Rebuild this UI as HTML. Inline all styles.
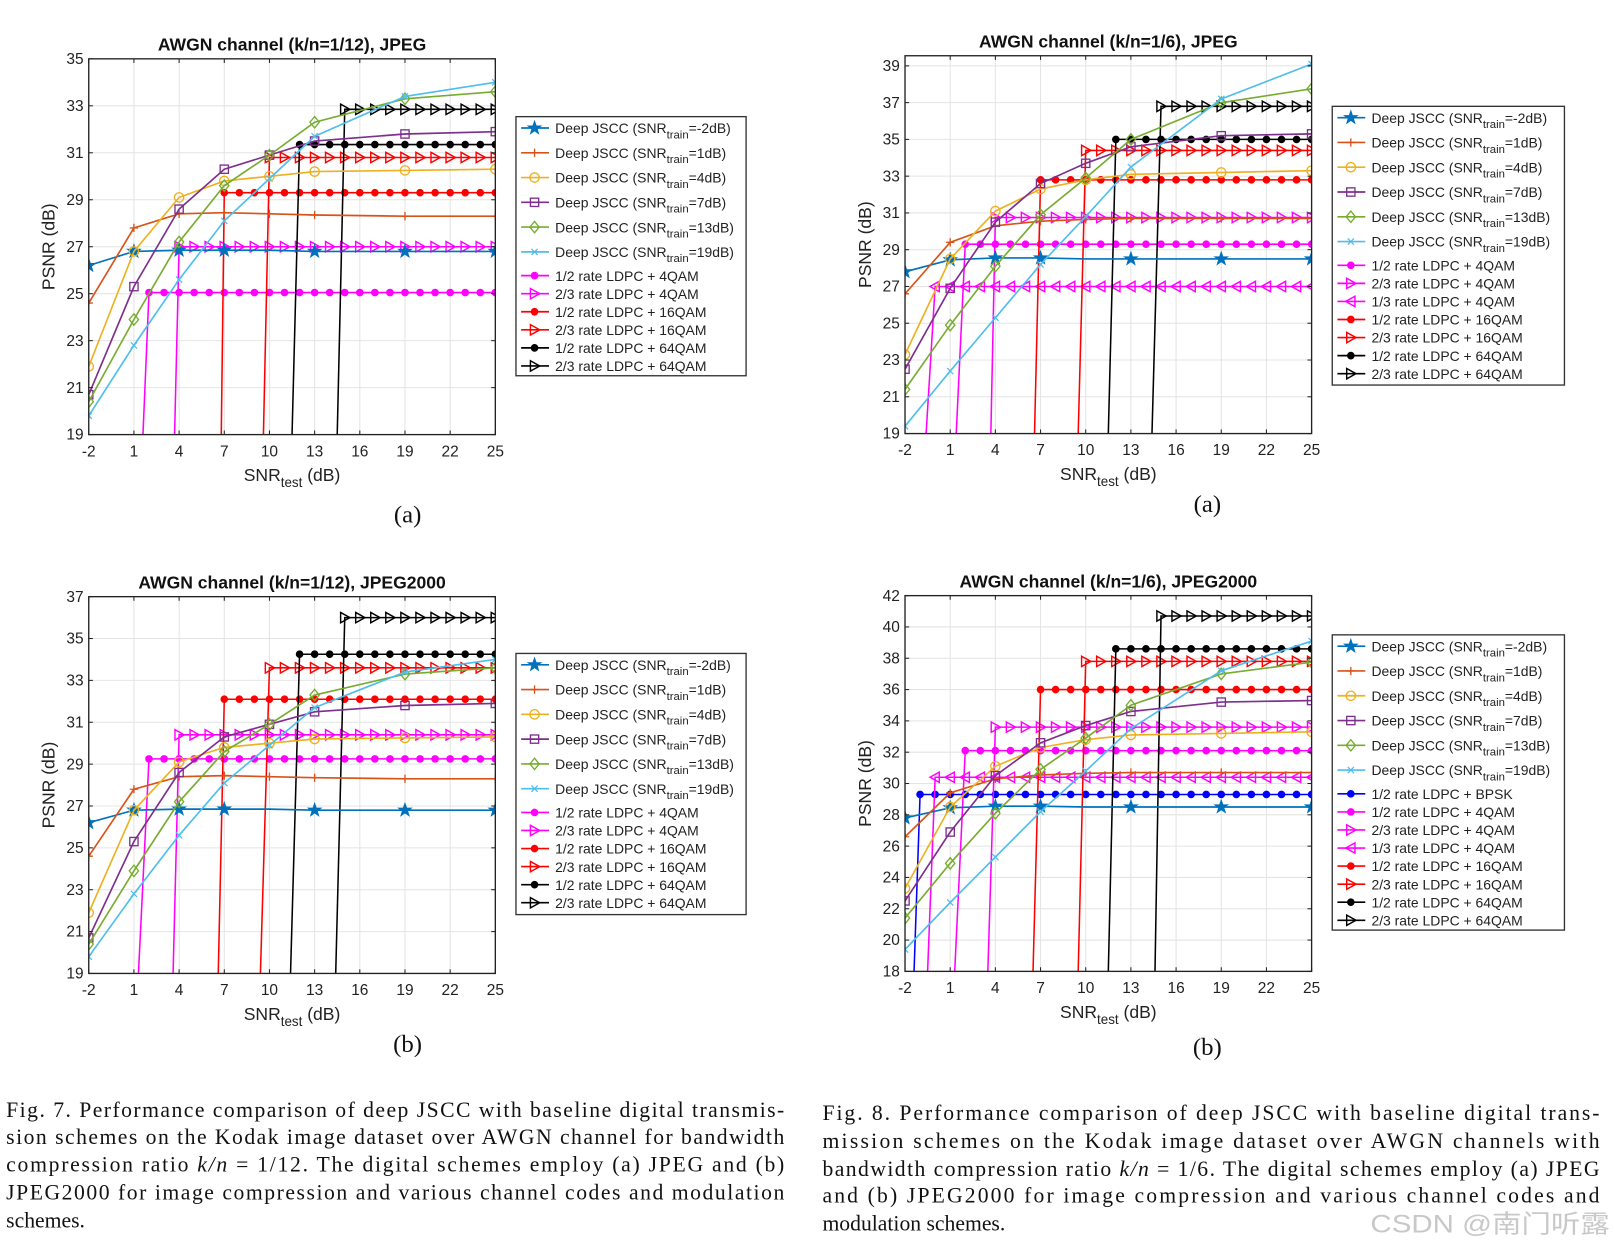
<!DOCTYPE html>
<html><head><meta charset="utf-8">
<style>
html,body{margin:0;padding:0;background:#fff;}
svg{display:block;}
text{font-family:"Liberation Sans",sans-serif;}
.cap{font-family:"Liberation Serif",serif;font-size:21px;fill:#111;}
</style></head>
<body>
<svg id="fig" width="1615" height="1247" viewBox="0 0 1565 1208" preserveAspectRatio="none" xmlns="http://www.w3.org/2000/svg">
<g id="charts"></g>
<g>
<text class="cap" x="6" y="1082" textLength="754" lengthAdjust="spacing">Fig. 7.   Performance comparison of deep JSCC with baseline digital transmis-</text>
<text class="cap" x="6" y="1108" textLength="754" lengthAdjust="spacing">sion schemes on the Kodak image dataset over AWGN channel for bandwidth</text>
<text class="cap" x="6" y="1135" textLength="754" lengthAdjust="spacing">compression ratio <tspan font-style="italic">k/n</tspan> = 1/12. The digital schemes employ (a) JPEG and (b)</text>
<text class="cap" x="6" y="1162" textLength="754" lengthAdjust="spacing">JPEG2000 for image compression and various channel codes and modulation</text>
<text class="cap" x="6" y="1189">schemes.</text>
</g>
<g>
<text class="cap" x="797" y="1085" textLength="753" lengthAdjust="spacing">Fig. 8.    Performance comparison of deep JSCC with baseline digital trans-</text>
<text class="cap" x="797" y="1112" textLength="753" lengthAdjust="spacing">mission schemes on the Kodak image dataset over AWGN channels with</text>
<text class="cap" x="797" y="1139" textLength="753" lengthAdjust="spacing">bandwidth compression ratio <tspan font-style="italic">k/n</tspan> = 1/6. The digital schemes employ (a) JPEG</text>
<text class="cap" x="797" y="1165" textLength="753" lengthAdjust="spacing">and (b) JPEG2000 for image compression and various channel codes and</text>
<text class="cap" x="797" y="1192">modulation schemes.</text>
</g>
<text x="1328" y="1194" font-size="24" textLength="232" lengthAdjust="spacingAndGlyphs" fill="#c8c8c8" style="font-family:'Liberation Sans','Noto Sans CJK SC',sans-serif">CSDN @南门听露</text>
</svg>
<script>
// ---- data ----
const xTicks = [-2,1,4,7,10,13,16,19,22,25];
const deepX = [-2,1,4,7,10,13,19,25];
const deepLabels = ["-2dB","1dB","4dB","7dB","13dB","19dB"];
// k/n=1/12 deep JSCC
const d12_m2 = [26.2,26.8,26.85,26.85,26.85,26.8,26.8,26.8];
const d12_1  = [24.6,27.8,28.4,28.45,28.4,28.35,28.3,28.3];
const d12_4  = [21.9,26.8,29.1,29.8,30.0,30.2,30.25,30.3];
const d12_7  = [20.7,25.3,28.6,30.3,30.9,31.5,31.8,31.9];
const d12_13 = [20.4,23.9,27.2,29.6,30.9,32.3,33.3,33.6];
const d12_19 = [19.8,22.8,25.6,28.1,29.9,31.7,33.4,34.0];
// k/n=1/6 deep JSCC
const d6_m2 = [27.8,28.45,28.55,28.55,28.5,28.5,28.5,28.5];
const d6_1  = [26.6,29.4,30.3,30.55,30.65,30.7,30.7,30.7];
const d6_4  = [23.3,28.5,31.1,32.3,32.8,33.1,33.2,33.3];
const d6_7  = [22.5,26.9,30.5,32.6,33.7,34.6,35.2,35.3];
const d6_13 = [21.4,24.9,28.1,30.9,32.9,35.0,37.0,37.75];
const d6_19 = [19.4,22.4,25.3,28.2,30.8,33.5,37.2,39.1];
// digital schemes
const dig1_names = ["1/2 rate LDPC + 4QAM","2/3 rate LDPC + 4QAM","1/2 rate LDPC + 16QAM","2/3 rate LDPC + 16QAM","1/2 rate LDPC + 64QAM","2/3 rate LDPC + 64QAM"];
const dig1_thr = [1.6,3.7,6.8,9.6,11.5,14.5];
const dig1_val = [25.05,27.0,29.3,30.8,31.35,32.85];
const dig2_names = ["1/2 rate LDPC + 4QAM","2/3 rate LDPC + 4QAM","1/3 rate LDPC + 4QAM","1/2 rate LDPC + 16QAM","2/3 rate LDPC + 16QAM","1/2 rate LDPC + 64QAM","2/3 rate LDPC + 64QAM"];
const dig2_thr = [1.4,3.7,-0.6,6.6,9.5,11.5,14.4];
const dig2_val = [29.3,30.75,27.0,32.8,34.4,35.0,36.8];
const dig3_thr = [1.3,3.6,6.6,9.4,11.4,14.4];
const dig3_val = [29.25,30.4,32.1,33.6,34.25,36.0];
const dig4_names = ["1/2 rate LDPC + BPSK","1/2 rate LDPC + 4QAM","2/3 rate LDPC + 4QAM","1/3 rate LDPC + 4QAM","1/2 rate LDPC + 16QAM","2/3 rate LDPC + 16QAM","1/2 rate LDPC + 64QAM","2/3 rate LDPC + 64QAM"];
const dig4_thr = [-1.4,1.3,3.5,-0.5,6.5,9.5,11.5,14.6];
const dig4_val = [29.3,32.1,33.6,30.4,36.0,37.8,38.6,40.7];

// ---- styles ----
const deepCol = ["#0072BD","#D95319","#EDB120","#7E2F8E","#77AC30","#4DBEEE"];
const deepMk = ["star","plus","circle","square","diamond","x"];
const styleOf = {"4QAM":"#FF00FF","16QAM":"#FF0000","64QAM":"#000000","BPSK":"#0000FF"};
const NS="http://www.w3.org/2000/svg";
function el(tag,attrs,parent){const e=document.createElementNS(NS,tag);for(const k in attrs)e.setAttribute(k,attrs[k]);if(parent)parent.appendChild(e);return e;}

function marker(g,type,x,y,col){
  let m;
  if(type==="star"){let p=[];for(let i=0;i<10;i++){const r=i%2?2.6:6.5,a=-Math.PI/2+i*Math.PI/5;p.push((x+r*Math.cos(a)).toFixed(1)+","+(y+r*Math.sin(a)).toFixed(1));}m=el("polygon",{points:p.join(" "),fill:col,stroke:col,"stroke-width":1},g);}
  else if(type==="plus"){m=el("path",{d:`M${x-4},${y}H${x+4}M${x},${y-4}V${y+4}`,stroke:col,"stroke-width":1.3,fill:"none"},g);}
  else if(type==="circle"){m=el("circle",{cx:x,cy:y,r:4.5,fill:"none",stroke:col,"stroke-width":1.3},g);}
  else if(type==="square"){m=el("rect",{x:x-4,y:y-4,width:8,height:8,fill:"none",stroke:col,"stroke-width":1.3},g);}
  else if(type==="diamond"){m=el("polygon",{points:`${x},${y-5.5} ${x+4.5},${y} ${x},${y+5.5} ${x-4.5},${y}`,fill:"none",stroke:col,"stroke-width":1.3},g);}
  else if(type==="x"){m=el("path",{d:`M${x-3},${y-3}L${x+3},${y+3}M${x-3},${y+3}L${x+3},${y-3}`,stroke:col,"stroke-width":1.2,fill:"none"},g);}
  else if(type==="dot"){m=el("circle",{cx:x,cy:y,r:3.3,fill:col,stroke:col,"stroke-width":0.8},g);}
  else if(type==="right"){m=el("polygon",{points:`${x-4},${y-5} ${x+5},${y} ${x-4},${y+5}`,fill:"none",stroke:col,"stroke-width":1.4},g);}
  else if(type==="left"){m=el("polygon",{points:`${x+4},${y-5} ${x-5},${y} ${x+4},${y+5}`,fill:"none",stroke:col,"stroke-width":1.4},g);}
  
  
}
function digStyle(name){const mod=name.split("+ ")[1];const col=styleOf[mod];let mk="dot";if(name.startsWith("2/3"))mk="right";if(name.startsWith("1/3"))mk="left";return {col,mk};}

function drawChart(c){
  const root=document.getElementById("charts");
  const g=el("g",{},root);
  
  
  const X=v=>c.x0+(v-(-2))/(27)*(c.x1-c.x0);
  const Y=v=>c.y1-(v-c.ymin)/(c.ymax-c.ymin)*(c.y1-c.y0);
  const grid=el("g",{},g);
  xTicks.forEach(t=>el("line",{x1:X(t),x2:X(t),y1:c.y0,y2:c.y1,stroke:"#e4e4e4","stroke-width":1},grid));
  c.yTicks.forEach(t=>el("line",{x1:c.x0,x2:c.x1,y1:Y(t),y2:Y(t),stroke:"#e4e4e4","stroke-width":1},grid));
  const cid="clip"+c.name;const cp=el("clipPath",{id:cid},g);el("rect",{x:c.x0,y:c.y0,width:c.x1-c.x0,height:c.y1-c.y0+1},cp);
  const plot=el("g",{"clip-path":`url(#${cid})`},g);
  
  c.digNames.forEach((nm,i)=>{
    const {col,mk}=digStyle(nm);const th=c.digThr[i],v=c.digVal[i];
    const s=el("g",{},plot);
    const start=Math.ceil(th);
    el("path",{d:`M${X(th)},${Y(c.ymin)}L${X(start)},${Y(v)}H${X(25)}`,fill:"none",stroke:col,"stroke-width":1.5},s);
    for(let x=start;x<=25;x++)marker(s,mk,X(x),Y(v),col);
  });
  c.deep.forEach((arr,i)=>{
    const s=el("g",{},plot);
    el("polyline",{points:deepX.map((x,j)=>X(x)+","+Y(arr[j])).join(" "),fill:"none",stroke:deepCol[i],"stroke-width":1.6},s);
    deepX.forEach((x,j)=>{if(x===10&&i===0)return;marker(s,deepMk[i],X(x),Y(arr[j]),deepCol[i]);});
  });
  const ax=el("g",{},g);
  el("rect",{x:c.x0,y:c.y0,width:c.x1-c.x0,height:c.y1-c.y0,fill:"none",stroke:"#222","stroke-width":1.3},ax);
  xTicks.forEach(t=>{el("line",{x1:X(t),x2:X(t),y1:c.y1,y2:c.y1-4,stroke:"#222"},ax);el("line",{x1:X(t),x2:X(t),y1:c.y0,y2:c.y0+4,stroke:"#222"},ax);
    const tx=el("text",{x:X(t),y:c.y1+21,"font-size":15,"text-anchor":"middle",fill:"#222"},ax);tx.textContent=t;});
  c.yTicks.forEach(t=>{el("line",{x1:c.x0,x2:c.x0+4,y1:Y(t),y2:Y(t),stroke:"#222"},ax);el("line",{x1:c.x1,x2:c.x1-4,y1:Y(t),y2:Y(t),stroke:"#222"},ax);
    const tx=el("text",{x:c.x0-5,y:Y(t)+5,"font-size":15,"text-anchor":"end",fill:"#222"},ax);tx.textContent=t;});
  const title=el("text",{x:(c.x0+c.x1)/2,y:c.y0-8,"font-size":17,"font-weight":"bold","text-anchor":"middle",fill:"#111"},g);
  title.textContent=c.title;
  const xl=el("text",{x:(c.x0+c.x1)/2,y:c.y1+45,"font-size":17,"text-anchor":"middle",fill:"#222"},g);
  
  xl.innerHTML='SNR<tspan font-size="13" dy="6">test</tspan><tspan dy="-6"> (dB)</tspan>';
  const yl=el("text",{x:0,y:0,"font-size":17,"text-anchor":"middle",fill:"#222",transform:`translate(${c.x0-33},${(c.y0+c.y1)/2}) rotate(-90)`},g);
  yl.textContent="PSNR (dB)";
  const sub=el("text",{x:c.subX,y:c.subY,"font-size":24,"text-anchor":"middle",fill:"#111",style:"font-family:'Liberation Serif',serif"},g);
  sub.textContent=c.sub;
  const lg=el("g",{},g);
  el("rect",{x:c.lx0,y:c.ly0,width:c.lx1-c.lx0,height:c.ly1-c.ly0,fill:"#fff",stroke:"#333","stroke-width":1.3},lg);
  const ent=[];
  deepLabels.forEach((l,i)=>ent.push({deep:true,l,col:deepCol[i],mk:deepMk[i]}));
  c.digNames.forEach(n=>{const s=digStyle(n);ent.push({deep:false,l:n,col:s.col,mk:s.mk});});
  const nDeep=6;
  const deepStep=24, digStep=17.5;
  const topPad=11, firstDig=c.ly0+topPad+5*deepStep+23;
  ent.forEach((e,i)=>{
    const y=e.deep?c.ly0+topPad+i*deepStep:firstDig+(i-nDeep)*digStep;
    const eg=el("g",{},lg);
    el("line",{x1:c.lx0+5,x2:c.lx0+32,y1:y,y2:y,stroke:e.col,"stroke-width":1.6},eg);
    marker(eg,e.mk,c.lx0+18,y,e.col);
    const t=el("text",{x:c.lx0+38,y:y+5,"font-size":13.5,fill:"#222"},eg);
    if(e.deep)t.innerHTML=`Deep JSCC (SNR<tspan font-size="11" dy="5">train</tspan><tspan dy="-5">=${e.l})</tspan>`;
    else t.textContent=e.l;
  });
}
drawChart({name:"chart-jpeg-1-12",title:"AWGN channel (k/n=1/12), JPEG",x0:86,x1:480,y0:57,y1:421,ymin:19,ymax:35,yTicks:[19,21,23,25,27,29,31,33,35],
  deep:[d12_m2,d12_1,d12_4,d12_7,d12_13,d12_19],digNames:dig1_names,digThr:dig1_thr,digVal:dig1_val,lx0:500,lx1:723,ly0:113,ly1:364,sub:"(a)",subX:395,subY:506});
drawChart({name:"chart-jpeg-1-6",title:"AWGN channel (k/n=1/6), JPEG",x0:877,x1:1271,y0:54,y1:420,ymin:19,ymax:39.55,yTicks:[19,21,23,25,27,29,31,33,35,37,39],
  deep:[d6_m2,d6_1,d6_4,d6_7,d6_13,d6_19],digNames:dig2_names,digThr:dig2_thr,digVal:dig2_val,lx0:1291,lx1:1516,ly0:103,ly1:373,sub:"(a)",subX:1170,subY:496});
drawChart({name:"chart-jpeg2000-1-12",title:"AWGN channel (k/n=1/12), JPEG2000",x0:86,x1:480,y0:578,y1:943,ymin:19,ymax:37,yTicks:[19,21,23,25,27,29,31,33,35,37],
  deep:[d12_m2,d12_1,d12_4,d12_7,d12_13,d12_19],digNames:dig1_names,digThr:dig3_thr,digVal:dig3_val,lx0:500,lx1:723,ly0:633,ly1:886,sub:"(b)",subX:395,subY:1019});
drawChart({name:"chart-jpeg2000-1-6",title:"AWGN channel (k/n=1/6), JPEG2000",x0:877,x1:1271,y0:577,y1:941,ymin:18,ymax:42,yTicks:[18,20,22,24,26,28,30,32,34,36,38,40,42],
  deep:[d6_m2,d6_1,d6_4,d6_7,d6_13,d6_19],digNames:dig4_names,digThr:dig4_thr,digVal:dig4_val,lx0:1291,lx1:1516,ly0:615,ly1:901,sub:"(b)",subX:1170,subY:1022});
</script>
</body></html>
